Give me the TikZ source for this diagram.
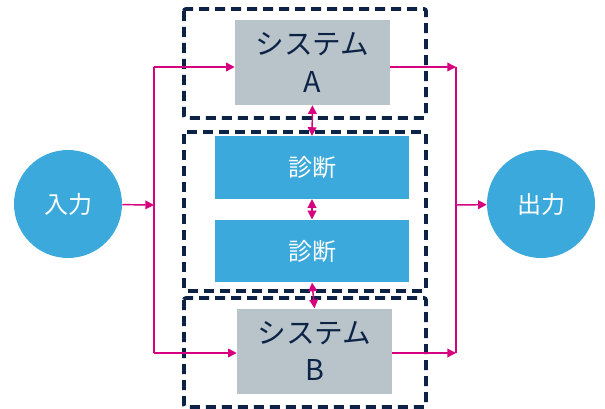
\documentclass[tikz,border=0pt]{standalone}
\usepackage{fontspec}
\setmainfont{Noto Sans CJK JP}
\usetikzlibrary{arrows.meta}
\definecolor{navy}{RGB}{13,35,70}
\definecolor{sysgray}{RGB}{185,195,202}
\definecolor{diagblue}{RGB}{59,169,219}
\definecolor{flowpink}{RGB}{214,0,127}

\begin{document}
\begin{tikzpicture}[x=0.75pt,y=0.75pt,yscale=-1,xscale=1,
    sysbox/.style={fill=sysgray, text=navy, inner sep=0, minimum width=116.25pt, minimum height=63.75pt, align=center, font=\fontsize{21.5}{28}\selectfont},
    diagbox/.style={fill=diagblue, text=white, inner sep=0, minimum width=145.5pt, minimum height=47pt, font=\fontsize{18}{20}\selectfont},
    ioball/.style={circle, fill=diagblue, text=white, inner sep=0, minimum size=81pt, font=\fontsize{18}{20}\selectfont},
    frame/.style={draw=navy, line width=2.8pt, dash pattern=on 7.5pt off 4.5pt, rounded corners=1.5pt},
    flow/.style={draw=flowpink, line width=1.1pt, -{Triangle[length=6.5pt,width=6.5pt]}},
    link/.style={draw=flowpink, line width=1.1pt, {Triangle[length=6.5pt,width=6.5pt]}-{Triangle[length=6.5pt,width=6.5pt]}}]
        \useasboundingbox (0,0) rectangle (605,409);

        %Frames
        \draw [frame] (184,9) rectangle (426,118) ;
        \draw [frame] (184,132) rectangle (426,291) ;
        \draw [frame] (184,298) rectangle (426,407) ;

        %Blocks
        \node [sysbox] (sysA) at (312.5,62.5) {システム\\A};
        \node [sysbox] (sysB) at (314.5,351) {システム\\B};
        \node [diagbox] (diag1) at (312,167.5) {診断};
        \node [diagbox] (diag2) at (312,251) {診断};
        \node [ioball] (in) at (68,204) {入力};
        \node [ioball] (out) at (541,204) {出力};

        %Branch points
        \coordinate (splitL) at (154,205);
        \coordinate (topL) at (154,67);
        \coordinate (botL) at (154,353);
        \coordinate (splitR) at (456,205);
        \coordinate (topR) at (456,67);
        \coordinate (botR) at (456,353);

        %Input side
        \draw [flow] (in) -- (splitL) ;
        \draw [draw=flowpink, line width=1.1pt] (topL) -- (botL) ;
        \draw [flow] (topL) -- (topL -| sysA.west) ;
        \draw [flow] (botL) -- (botL -| sysB.west) ;

        %Output side
        \draw [flow] (sysA.east |- topR) -- (topR) ;
        \draw [flow] (sysB.east |- botR) -- (botR) ;
        \draw [draw=flowpink, line width=1.1pt] (topR) -- (botR) ;
        \draw [flow] (splitR) -- (out) ;

        %Diagnostic links
        \draw [link] (sysA.south) -- (diag1.north) ;
        \draw [link] (diag1.south) -- (diag2.north) ;
        \draw [link] (diag2.south) -- (sysB.north) ;
\end{tikzpicture}
\end{document}
